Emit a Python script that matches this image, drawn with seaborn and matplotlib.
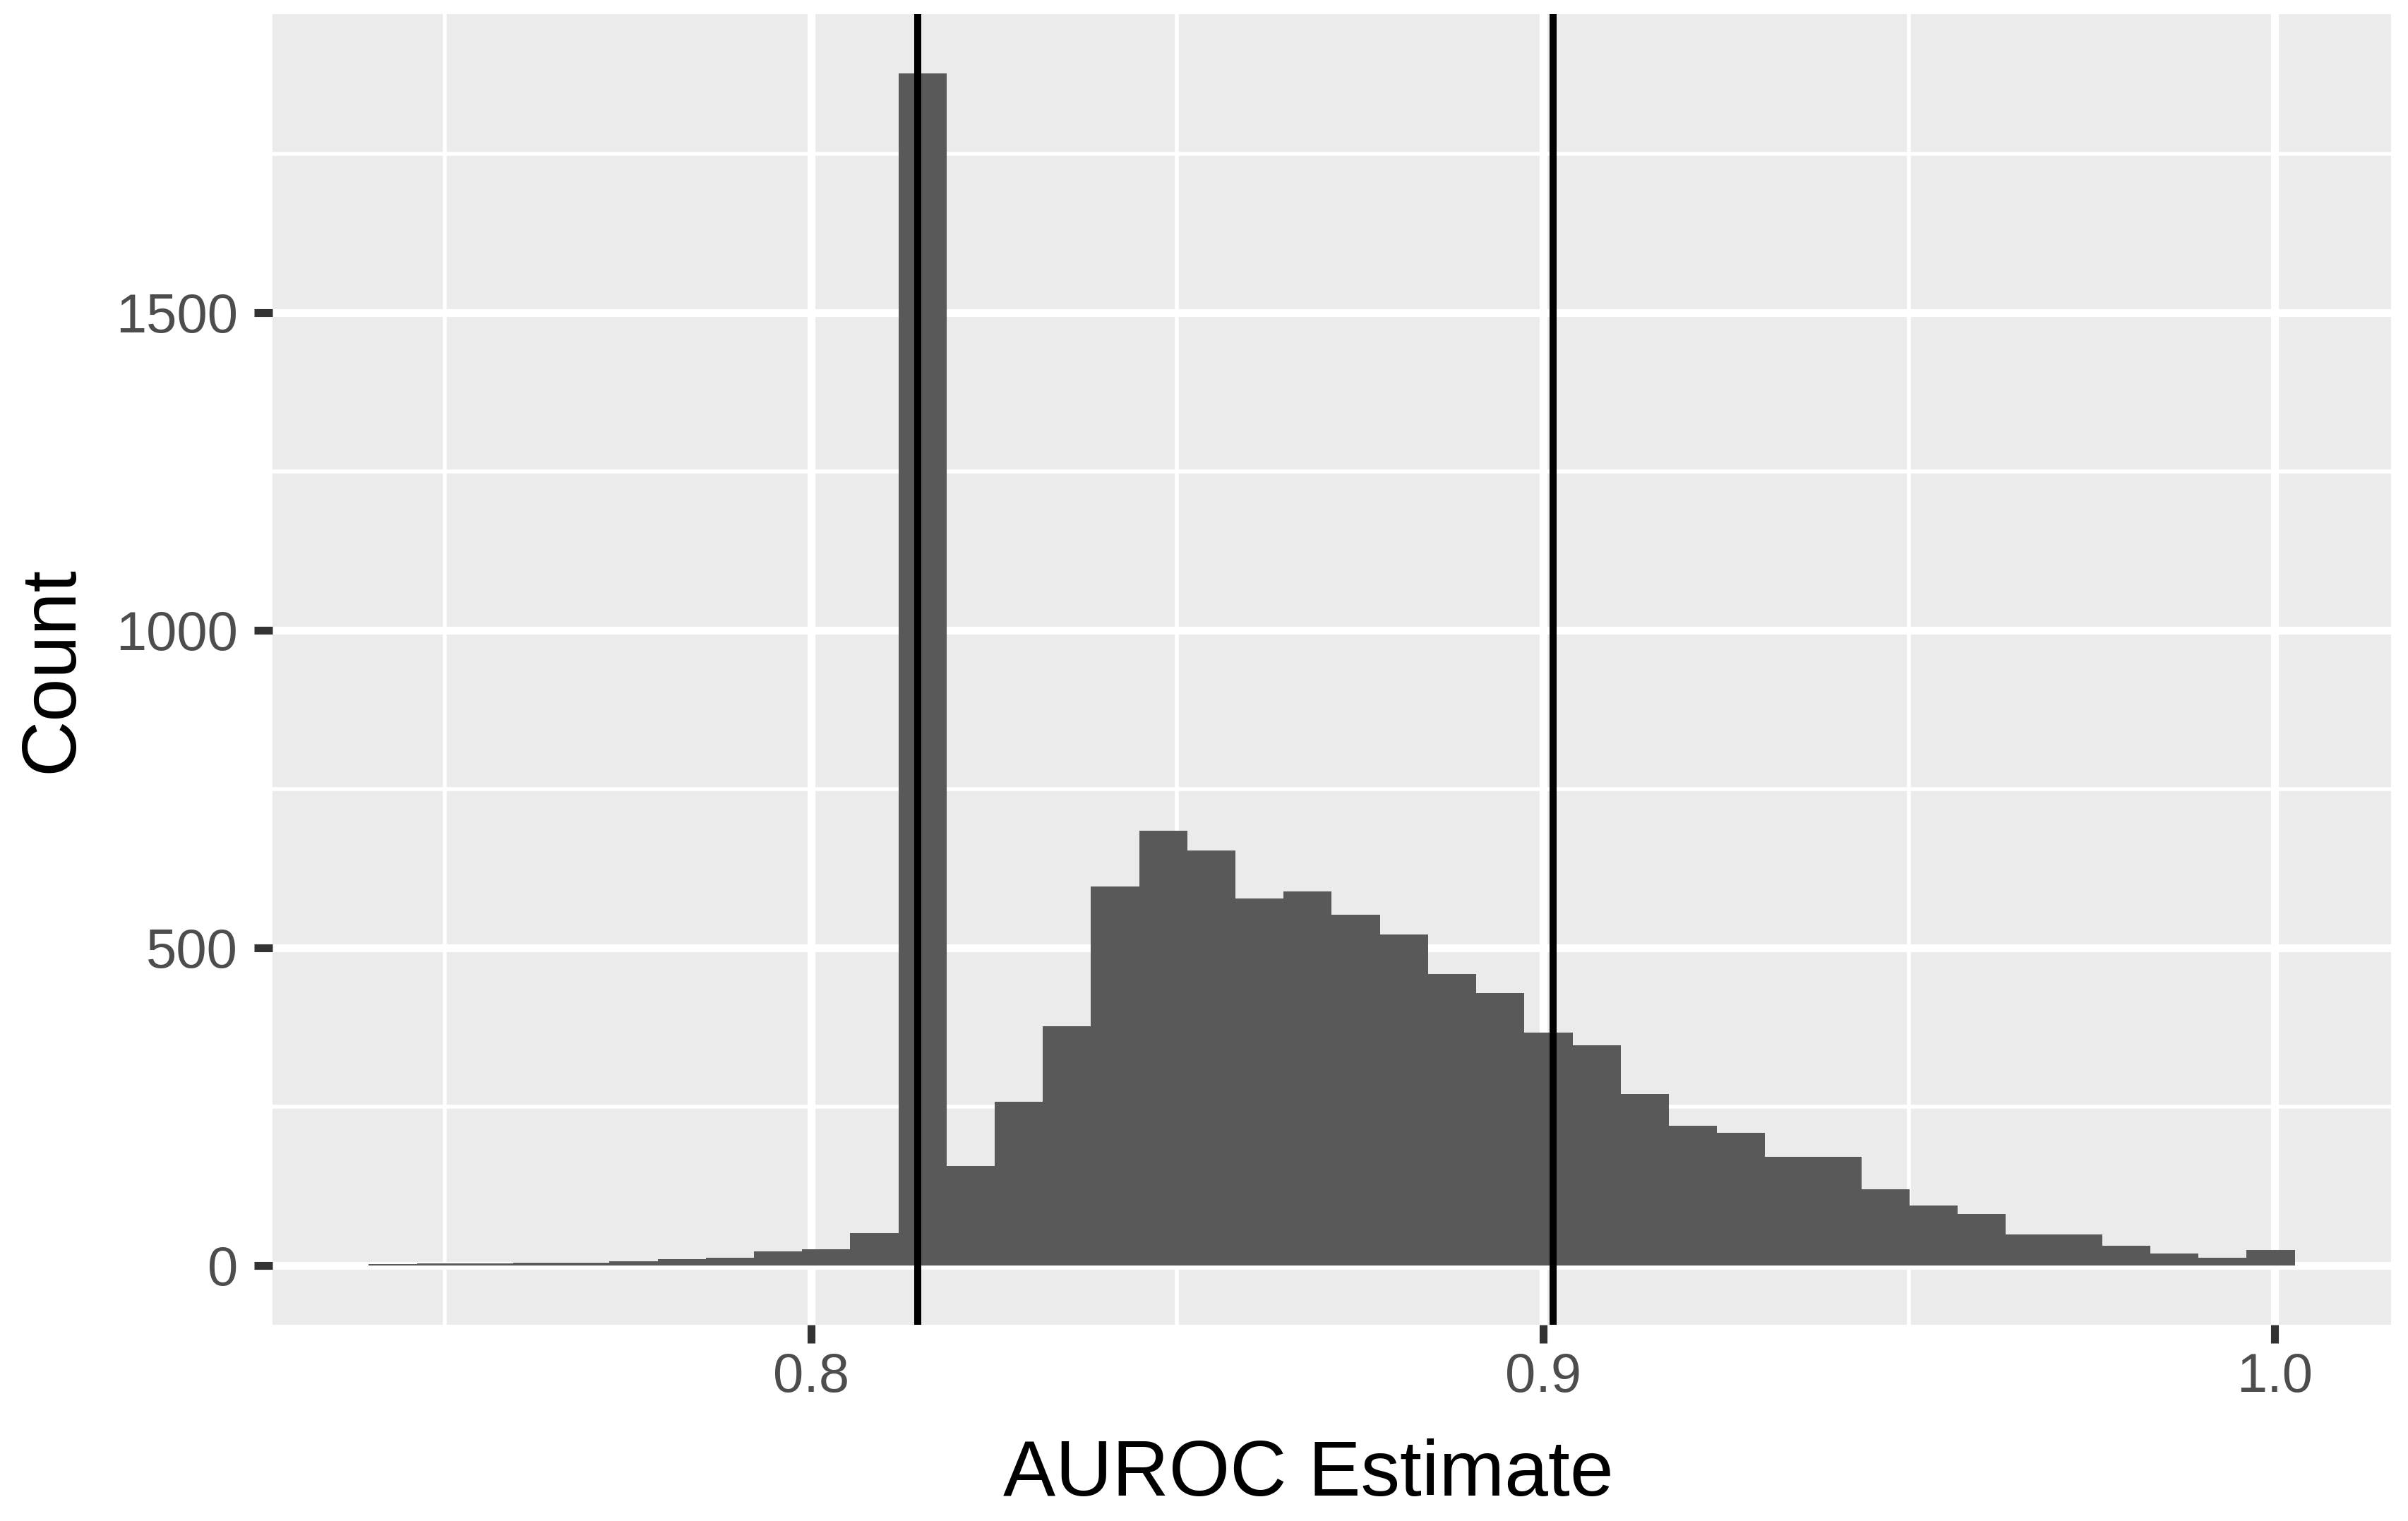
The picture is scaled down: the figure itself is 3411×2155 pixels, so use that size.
import numpy as np
import pandas as pd
import seaborn as sns
import matplotlib.pyplot as plt
from matplotlib.ticker import MultipleLocator

# Histogram of AUROC estimates (40 bins), counts
bin_start = 0.7396
bin_width = 0.006578
counts = [2, 3, 3, 4, 4, 6, 10, 12, 22, 25,
          51, 1876, 156, 257, 376, 596, 684, 653, 577, 589,
          552, 521, 458, 428, 366, 346, 270, 220, 208, 171,
          171, 120, 94, 81, 49, 49, 31, 18, 12, 24]
# vertical reference lines
ref_lines = [0.8146, 0.9014]
x_ticks = [0.8, 0.9, 1.0]
x_tick_labels = ["0.8", "0.9", "1.0"]
y_ticks = [0, 500, 1000, 1500]

edges = bin_start + bin_width * np.arange(len(counts) + 1)
df = pd.DataFrame({'auroc': (edges[:-1] + edges[1:]) / 2, 'count': counts})

sns.set_style("darkgrid")
plt.rcParams['font.family'] = ['Liberation Sans', 'DejaVu Sans']

fig = plt.figure(figsize=(34.12, 21.55), dpi=100)
ax = fig.add_axes([0.1131, 0.1290, 0.8796, 0.8617])
ax.set_facecolor('#EBEBEB')

sns.histplot(data=df, x='auroc', weights='count', bins=list(edges), color='#595959',
             alpha=1, edgecolor='none', linewidth=0, ax=ax, zorder=2)

for xv in ref_lines:
    ax.axvline(xv, color='black', linewidth=7.2, zorder=3)

# ggplot-like expansion of 5%
lo, hi = edges[0], edges[-1]
pad = (hi - lo) * 0.05
ax.set_xlim(lo - pad, hi + pad)
ymax = max(counts)
ax.set_ylim(-0.05 * ymax, 1.05 * ymax)

ax.set_xticks(x_ticks)
ax.set_xticklabels(x_tick_labels)
ax.set_yticks(y_ticks)
ax.xaxis.set_minor_locator(MultipleLocator(0.05))
ax.yaxis.set_minor_locator(MultipleLocator(250))

ax.grid(which='major', color='white', linewidth=8)
ax.grid(which='minor', color='white', linewidth=4)
ax.set_axisbelow(True)
for s in ax.spines.values():
    s.set_visible(False)

ax.tick_params(axis='both', which='major', length=19, width=8, color='#333333',
               labelsize=56, labelcolor='#4D4D4D', bottom=True, left=True,
               direction='out')
ax.tick_params(axis='x', pad=8)
ax.tick_params(axis='y', pad=16)
ax.tick_params(which='minor', length=0, bottom=False, left=False)

ax.set_xlabel('AUROC Estimate', fontsize=80, color='black', labelpad=36)
ax.set_ylabel('Count', fontsize=79, color='black', labelpad=28)
ax.xaxis.label.set_x(0.489)

fig.savefig('out.png', dpi=100)
